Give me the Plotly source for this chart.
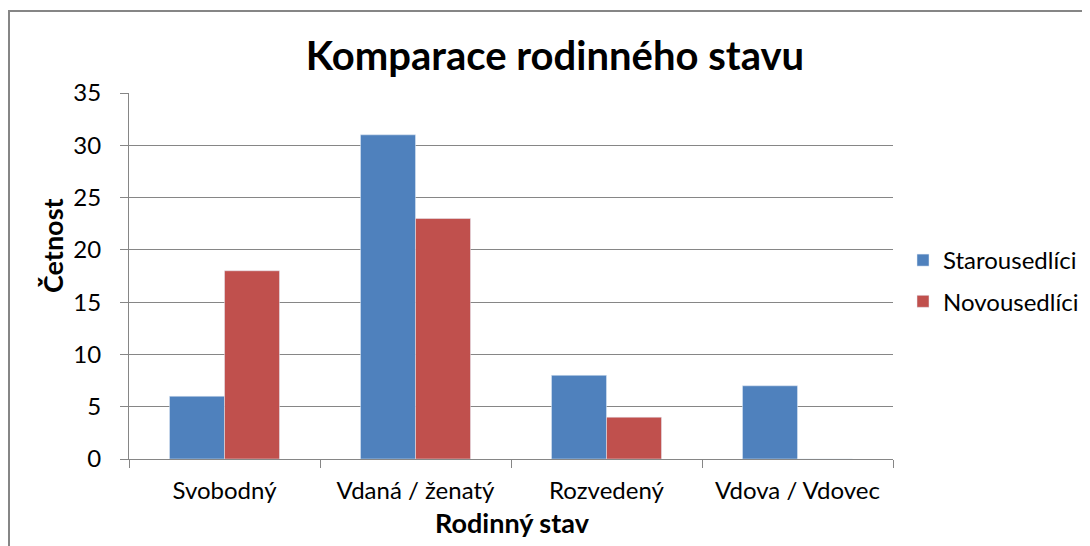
import plotly.graph_objects as go

categories = ["Svobodný", "Vdaná / ženatý", "Rozvedený", "Vdova / Vdovec"]
starousedlici = [6, 31, 8, 7]
novousedlici = [18, 23, 4, 0]
series_names = ["Starousedlíci", "Novousedlíci"]
y_ticks = [0, 5, 10, 15, 20, 25, 30, 35]

W, H = 1090, 546
OFF = 8  # page body margin
# plot area in screen pixels
L, R, T, B = 129, 893, 93, 459

def px(x):
    return (x - L) / (R - L)

def py(y):
    return (B - y) / (B - T)

FONT = "Lato"
GRAY = "#868686"

fig = go.Figure()
fig.add_trace(go.Bar(x=categories, y=starousedlici, name=series_names[0],
                     marker=dict(color="#4F81BD"), legendgroup="a"))
fig.add_trace(go.Bar(x=categories, y=novousedlici, name=series_names[1],
                     marker=dict(color="#C0504D"), legendgroup="b"))

fig.update_layout(
    width=W, height=H,
    margin=dict(l=L - OFF, r=W - (R - OFF), t=T - OFF, b=H - (B - OFF)),
    paper_bgcolor="white", plot_bgcolor="white",
    font=dict(family=FONT, size=24, color="black"),
    barmode="group", bargap=0.424, bargroupgap=0,
    title=dict(text="<b>Komparace rodinného stavu</b>", x=(555 - OFF) / W, xanchor="center",
               y=1 - (56 - OFF) / H, yanchor="middle", font=dict(family=FONT, size=40, color="black")),
    legend=dict(x=px(903), y=py(238), xanchor="left", yanchor="top",
                traceorder="grouped", tracegroupgap=7, font=dict(size=24),
                bgcolor="rgba(0,0,0,0)"),
    showlegend=True,
)
fig.update_xaxes(type="category", showline=True, linecolor=GRAY, linewidth=1,
                 ticks="outside", tickson="boundaries", ticklen=8, tickcolor=GRAY,
                 showgrid=False, tickfont=dict(size=24), ticklabelstandoff=10)
fig.update_yaxes(range=[0, 35], tickvals=y_ticks, showline=True, linecolor=GRAY, linewidth=1,
                 ticks="outside", ticklen=8, tickcolor=GRAY, showgrid=True, gridcolor=GRAY,
                 gridwidth=1, zeroline=False, tickfont=dict(size=24), ticklabelstandoff=14)

fig.add_annotation(text="<b>Četnost</b>", x=px(52), y=py(246), xref="paper", yref="paper",
                   xanchor="center", yanchor="middle",
                   textangle=-90, showarrow=False, font=dict(size=27))
fig.add_annotation(text="<b>Rodinný stav</b>", x=px(512), y=py(522), xref="paper", yref="paper",
                   xanchor="center", yanchor="middle",
                   showarrow=False, font=dict(size=27))

fig.add_shape(type="rect", xref="paper", yref="paper", x0=px(9), y0=py(11), x1=px(1300), y1=py(800),
              line=dict(color=GRAY, width=2), fillcolor="rgba(0,0,0,0)", layer="below")

fig.write_html("out.html")
